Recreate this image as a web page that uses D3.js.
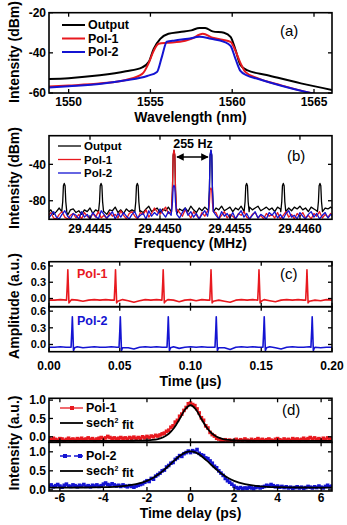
<!DOCTYPE html>
<html>
<head>
<meta charset="utf-8">
<script src="https://cdn.jsdelivr.net/npm/d3@7"></script>
<style>
  body { margin: 0; background: #fff; }
  svg { display: block; font-family: "Liberation Sans", Arial, sans-serif; }
  .tick-label { font-size: 12px; font-weight: bold; }
  .tick-label.small { font-size: 11px; }
  .axis-title { font-size: 14px; font-weight: bold; }
  .legend { font-size: 12.5px; font-weight: bold; }
  .legend.small { font-size: 11.5px; }
  .panel-tag { font-size: 15px; }
</style>
</head>
<body>
<svg id="fig" width="347" height="525"></svg>
<script>
'use strict';

var RED = '#e8191f', BLUE = '#1414d2';

// ---- (a) optical spectra: [wavelength nm, dBm]
var specOutput = [[1548.8,-53],[1550,-52.6],[1551.9,-51.2],[1553.5,-49.2],[1554.5,-47.2],[1554.9,-44.5],
  [1555.2,-38],[1555.6,-33],[1556.1,-30.5],[1556.8,-29.6],[1557.5,-28.8],[1558.0,-27.6],[1558.35,-27.6],
  [1558.8,-29.3],[1559.5,-30],[1559.9,-32],[1560.2,-38.5],[1560.5,-46],[1560.9,-48.6],[1562.1,-51],
  [1564.2,-55.2],[1566.1,-58.5]];
var specPol1 = [[1548.8,-56.8],[1550,-56.3],[1552,-55.2],[1553.5,-53.5],[1554.5,-50.5],[1554.9,-45],
  [1555.2,-39],[1555.5,-35.5],[1556,-35],[1556.8,-34.5],[1557.5,-33],[1558.2,-30.5],[1558.8,-32.5],
  [1559.4,-33.5],[1559.9,-34.5],[1560.2,-39],[1560.5,-45],[1560.8,-49.5],[1561.5,-52.5],[1563,-56.2],
  [1564.8,-60],[1566.1,-62]];
var specPol2 = [[1548.8,-57.2],[1550,-56.6],[1552,-55.4],[1553.5,-53.7],[1554.8,-51.5],[1555.4,-49.5],
  [1555.7,-42],[1556,-34.5],[1556.5,-33.8],[1557.3,-33],[1558,-32],[1558.7,-33],[1559.5,-34.5],
  [1559.9,-36.5],[1560.2,-43],[1560.5,-49],[1560.9,-51.2],[1561.5,-52.8],[1563,-56.4],[1564.8,-60],
  [1566.1,-62]];
var waveTicks = [1550, 1555, 1560, 1565];
var dbmTicksA = [-60, -40, -20];

// ---- (b) RF spectra, offsets in Hz from 29.4450 MHz; noise floor sampled every 20 Hz
var rfCentre = 29.4450, rfStart = -800, rfStep = 20, rfFloor = -92;
var rfOutputNoise = [-93,-90,-95,-92,-88,-94,-91,-96,-90,-89,-93,-91,-95,-90,-92,-88,-94,-90,-93,-89,
  -92,-95,-90,-91,-87,-93,-90,-94,-89,-92,-90,-94,-88,-91,-93,-89,-86,-92,-90,-88,
  -93,-89,-91,-87,-92,-90,-94,-89,-91,-88,-92,-86,-90,-93,-88,-91,-87,-90,-89,-92,
  -88,-90,-86,-91,-89,-87,-92,-88,-90,-86,-89,-91,-87,-90,-88,-86,-91,-89,-87,-90,
  -88,-92,-87,-89,-86,-90,-88,-91,-87,-89,-86,-90,-88,-92,-87,-89,-91,-86,-90,-88,-89,-87,-90];
var rfPol1Noise = [-97,-93,-99,-100,-95,-92,-98,-100,-96,-94,-99,-95,-100,-93,-97,-100,-94,-98,-92,-99,
  -96,-100,-93,-97,-95,-99,-91,-96,-100,-94,-92,-97,-100,-93,-95,-90,-98,-94,-88,-92,
  -95,-91,-87,-94,-92,-96,-89,-93,-97,-90,-94,-99,-92,-96,-100,-93,-97,-91,-95,-98,
  -93,-100,-96,-92,-99,-95,-97,-100,-94,-96,-92,-98,-100,-95,-93,-99,-96,-100,-94,-97,
  -95,-99,-93,-100,-96,-92,-98,-95,-100,-94,-97,-93,-99,-96,-100,-94,-97,-92,-99,-95,-98,-94,-100];
var rfPol2Noise = [-100,-96,-92,-98,-100,-95,-91,-97,-100,-94,-96,-100,-92,-98,-95,-100,-93,-97,-100,-91,
  -95,-99,-96,-92,-100,-94,-98,-93,-97,-100,-95,-92,-99,-96,-94,-100,-91,-97,-93,-96,
  -89,-94,-98,-92,-96,-91,-95,-99,-93,-88,-96,-92,-98,-94,-100,-95,-91,-97,-93,-99,
  -96,-100,-92,-97,-94,-99,-93,-100,-95,-91,-98,-94,-100,-96,-92,-99,-95,-97,-100,-93,
  -96,-92,-99,-95,-100,-94,-91,-98,-96,-100,-93,-97,-100,-95,-92,-98,-94,-100,-96,-93,-99,-95,-97];
// comb lines: [offset Hz, peak dBm]
var rfOutputPeaks = [[-684,-61],[-421,-61],[-162,-61],[100,-25],[364,-25],[619,-61],[881,-61],[1143,-61]];
var rfPol1Peaks = [[100,-24],[364,-66]];
var rfPol2Peaks = [[100,-63],[364,-24]];
// profile of one comb line: [Hz from centre, fraction of height above floor]
var toothShape = [[-18,0],[-11,0.35],[-6,0.92],[0,1],[6,0.92],[11,0.35],[18,0]];
var freqTicks = [29.4445, 29.4450, 29.4455, 29.4460];
var dbmTicksB = [-80, -40];

// ---- (c) oscilloscope traces, baseline sampled every 0.004 us
var scopeStep = 0.004;
var scopePol1Base = [-0.03,-0.03,-0.02,-0.03,-0.02,-0.03,-0.05,-0.03,-0.02,-0.03,
  -0.02,-0.03,-0.03,-0.02,-0.04,-0.07,-0.04,-0.02,-0.03,-0.02,
  -0.03,-0.02,-0.03,-0.06,-0.03,-0.02,-0.04,-0.02,-0.03,-0.02,
  -0.03,-0.05,-0.07,-0.03,-0.02,-0.03,-0.02,-0.03,-0.02,-0.04,
  -0.06,-0.03,-0.02,-0.03,-0.02,-0.03,-0.02,-0.03,-0.04,-0.02,-0.03];
var scopePol2Base = [-0.05,-0.05,-0.04,-0.05,-0.05,-0.04,-0.06,-0.05,-0.04,-0.05,
  -0.05,-0.04,-0.05,-0.04,-0.06,-0.08,-0.05,-0.04,-0.05,-0.04,
  -0.05,-0.05,-0.04,-0.07,-0.05,-0.04,-0.05,-0.04,-0.05,-0.05,
  -0.04,-0.06,-0.09,-0.05,-0.04,-0.05,-0.04,-0.05,-0.05,-0.04,
  -0.06,-0.08,-0.05,-0.04,-0.05,-0.05,-0.04,-0.05,-0.06,-0.05,-0.05];
var pol1PulseTimes = [0.0133, 0.0470, 0.0807, 0.1145, 0.1484, 0.1823];
var pol2PulseTimes = [0.0165, 0.0504, 0.0843, 0.1182, 0.1521, 0.1860];
// one pulse as seen on the scope: [us from peak, amplitude]
var pol1Pulse = [[-0.0009,-0.03],[-0.0003,0.3],[0,0.53],[0.0003,0.3],[0.0008,-0.08],[0.0016,-0.05]];
var pol2Pulse = [[-0.0009,-0.05],[-0.0003,0.28],[0,0.5],[0.0003,0.28],[0.0008,-0.11],[0.0016,-0.06]];
var timeTicks = [0, 0.05, 0.10, 0.15, 0.20];
var ampTicks = [0, 0.3, 0.6];

// ---- (d) autocorrelation traces, sampled every 0.1 ps from -6.5 ps
var acStart = -6.5, acStep = 0.1;
var acPol1 = [-0.05,-0.08,-0.04,-0.07,-0.09,-0.05,-0.06,-0.10,-0.07,-0.04,
  -0.08,-0.06,-0.09,-0.05,-0.07,-0.04,-0.08,-0.06,-0.03,-0.07,
  -0.05,-0.09,-0.06,-0.04,-0.02,-0.05,-0.03,0.01,-0.02,-0.05,
  -0.03,-0.06,-0.04,-0.02,-0.05,-0.03,-0.06,-0.02,-0.04,-0.01,
  -0.05,-0.02,-0.04,0.00,-0.03,0.01,-0.02,0.02,0.00,0.04,
  0.02,0.05,0.08,0.10,0.15,0.18,0.26,0.30,0.40,0.45,
  0.56,0.62,0.72,0.80,0.90,0.92,0.88,0.85,0.76,0.65,
  0.52,0.45,0.30,0.24,0.12,0.06,0.02,-0.04,-0.06,-0.09,
  -0.10,-0.08,-0.11,-0.09,-0.12,-0.10,-0.07,-0.11,-0.08,-0.10,
  -0.06,-0.09,-0.11,-0.07,-0.10,-0.08,-0.05,-0.09,-0.07,-0.10,
  -0.08,-0.06,-0.09,-0.11,-0.07,-0.05,-0.08,-0.10,-0.06,-0.09,
  -0.07,-0.10,-0.05,-0.08,-0.06,-0.09,-0.07,-0.04,-0.08,-0.05,
  -0.02,-0.06,-0.03,-0.07,-0.05,-0.08,-0.04,-0.07,-0.03,-0.06,-0.04];
var acPol2 = [0.10,0.13,0.08,0.11,0.14,0.10,0.07,0.12,0.15,0.10,
  0.09,0.13,0.11,0.08,0.12,0.10,0.14,0.09,0.11,0.08,
  0.12,0.10,0.13,0.09,0.11,0.15,0.18,0.14,0.12,0.16,
  0.13,0.10,0.12,0.09,0.13,0.10,0.08,0.11,0.09,0.07,
  0.10,0.12,0.14,0.16,0.20,0.24,0.22,0.30,0.28,0.36,
  0.40,0.44,0.50,0.52,0.60,0.64,0.70,0.72,0.80,0.84,
  0.90,0.88,0.95,0.98,1.02,0.98,1.03,1.00,1.06,0.96,
  0.92,0.90,0.84,0.82,0.76,0.70,0.62,0.58,0.50,0.44,
  0.38,0.30,0.24,0.20,0.15,0.10,0.06,0.04,0.06,0.03,
  0.05,0.04,0.07,0.05,0.03,0.06,0.08,0.05,0.07,0.09,
  0.12,0.10,0.14,0.11,0.08,0.10,0.07,0.09,0.06,0.08,
  0.05,0.07,0.04,0.06,0.08,0.05,0.07,0.04,0.06,0.09,
  0.07,0.05,0.08,0.06,0.10,0.07,0.05,0.09,0.12,0.08,0.10];
// sech^2 fits
var fitTimes = [-6.5,-5,-4,-3.5,-3,-2.5,-2,-1.75,-1.5,-1.25,-1,-0.75,-0.5,-0.25,0,
  0.25,0.5,0.75,1,1.25,1.5,1.75,2,2.5,3,3.5,4,5,6.5];
var fitPol1 = [-0.11,-0.11,-0.11,-0.11,-0.109,-0.107,-0.098,-0.086,-0.061,-0.012,0.082,0.246,0.487,0.743,0.86,
  0.743,0.487,0.246,0.082,-0.012,-0.061,-0.086,-0.098,-0.107,-0.109,-0.11,-0.11,-0.11,-0.11];
var fitPol2 = [0.06,0.062,0.07,0.081,0.104,0.149,0.238,0.306,0.395,0.507,0.634,0.767,0.891,0.978,1.01,
  0.978,0.891,0.767,0.634,0.507,0.395,0.306,0.238,0.149,0.104,0.081,0.07,0.062,0.06];
var delayTicks = [-6, -4, -2, 0, 2, 4, 6];
var acTicks = [0, 0.5, 1.0];

var svg = d3.select('#fig');
var X0 = 49, X1 = 332;
var clipId = 0;

// frame with inward ticks on all four sides, returns the clipped data group
function frame(xs, ys, xTicks, yTicks, yFmt, labelClass) {
  var x0 = xs.range()[0], x1 = xs.range()[1];
  var yb = ys.range()[0], yt = ys.range()[1];
  var tl = 4;

  var id = 'clip' + (clipId++);
  svg.append('defs').append('clipPath').attr('id', id)
    .append('rect').attr('x', x0).attr('y', yt).attr('width', x1 - x0).attr('height', yb - yt);
  var data = svg.append('g').attr('clip-path', 'url(#' + id + ')');

  var ticks = svg.append('g').attr('stroke', '#000').attr('stroke-width', 1.3);
  xTicks.forEach(function (t) {
    var x = xs(t);
    ticks.append('line').attr('x1', x).attr('x2', x).attr('y1', yb).attr('y2', yb - tl);
    ticks.append('line').attr('x1', x).attr('x2', x).attr('y1', yt).attr('y2', yt + tl);
  });
  yTicks.forEach(function (t) {
    var y = ys(t);
    ticks.append('line').attr('x1', x0).attr('x2', x0 + tl).attr('y1', y).attr('y2', y);
    ticks.append('line').attr('x1', x1).attr('x2', x1 - tl).attr('y1', y).attr('y2', y);
    svg.append('text').attr('class', 'tick-label ' + (labelClass || ''))
      .attr('x', x0 - 3).attr('y', y).attr('dy', '0.36em')
      .attr('text-anchor', 'end').text(yFmt(t));
  });

  return { data: data, x0: x0, x1: x1, yt: yt, yb: yb };
}

function border(f) {
  svg.append('rect').attr('x', f.x0).attr('y', f.yt)
    .attr('width', f.x1 - f.x0).attr('height', f.yb - f.yt)
    .attr('fill', 'none').attr('stroke', '#000').attr('stroke-width', 1.6);
}

function xLabels(xs, ticks, y, fmt) {
  ticks.forEach(function (t) {
    svg.append('text').attr('class', 'tick-label')
      .attr('x', xs(t)).attr('y', y).attr('text-anchor', 'middle').text(fmt(t));
  });
}

function xTitle(text, y) {
  svg.append('text').attr('class', 'axis-title')
    .attr('x', (X0 + X1) / 2).attr('y', y).attr('text-anchor', 'middle').text(text);
}

function yTitle(text, cy) {
  svg.append('text').attr('class', 'axis-title')
    .attr('transform', 'translate(19,' + cy + ') rotate(-90)')
    .attr('text-anchor', 'middle').text(text);
}

function tag(text, x, y) {
  svg.append('text').attr('class', 'panel-tag').attr('x', x).attr('y', y).text(text);
}

function legendLine(x, y, color, width, text, dash, cls) {
  svg.append('line').attr('x1', x).attr('x2', x + 23).attr('y1', y).attr('y2', y)
    .attr('stroke', color).attr('stroke-width', width).attr('stroke-dasharray', dash || null);
  return svg.append('text').attr('class', 'legend ' + (cls || ''))
    .attr('x', x + 26).attr('y', y).attr('dy', '0.35em').text(text);
}

function fmtInt(v) { return String(v); }
function fmt1(v) { return v.toFixed(1); }

// ================= (a) =================
var xA = d3.scaleLinear().domain([1548.8, 1566.1]).range([X0, X1]);
var yA = d3.scaleLinear().domain([-60, -20]).range([93, 12.7]);
var fA = frame(xA, yA, waveTicks, dbmTicksA, fmtInt);
var lineA = d3.line().x(function (d) { return xA(d[0]); }).y(function (d) { return yA(d[1]); })
  .curve(d3.curveMonotoneX);
[[specOutput, '#000'], [specPol1, RED], [specPol2, BLUE]].forEach(function (s) {
  fA.data.append('path').datum(s[0]).attr('d', lineA)
    .attr('fill', 'none').attr('stroke', s[1]).attr('stroke-width', 2);
});
border(fA);
xLabels(xA, waveTicks, 106, fmtInt);
xTitle('Wavelength (nm)', 121.5);
yTitle('Intensity (dBm)', 52);
legendLine(62, 25, '#000', 2, 'Output');
legendLine(62, 38.5, RED, 2, 'Pol-1');
legendLine(62, 52, BLUE, 2, 'Pol-2');
tag('(a)', 280, 36);

// ================= (b) =================
var xB = d3.scaleLinear().domain([29.444207, 29.446229]).range([X0, X1]);
var yB = d3.scaleLinear().domain([-100.4, -8.5]).range([219.3, 135.7]);
var fB = frame(xB, yB, freqTicks, dbmTicksB, fmtInt);

function rfTrace(noise, peaks) {
  var pts = noise.map(function (v, i) { return [rfStart + i * rfStep, v]; })
    .filter(function (p) {
      return !peaks.some(function (k) { return Math.abs(p[0] - k[0]) < 20; });
    });
  peaks.forEach(function (k) {
    toothShape.forEach(function (s) {
      pts.push([k[0] + s[0], rfFloor + (k[1] - rfFloor) * s[1]]);
    });
  });
  pts.sort(function (a, b) { return a[0] - b[0]; });
  return pts;
}
var lineB = d3.line()
  .x(function (d) { return xB(rfCentre + d[0] * 1e-6); })
  .y(function (d) { return yB(d[1]); });
[[rfTrace(rfOutputNoise, rfOutputPeaks), '#000'],
 [rfTrace(rfPol1Noise, rfPol1Peaks), RED],
 [rfTrace(rfPol2Noise, rfPol2Peaks), BLUE]].forEach(function (s) {
  fB.data.append('path').datum(s[0]).attr('d', lineB)
    .attr('fill', 'none').attr('stroke', s[1]).attr('stroke-width', 1.3)
    .attr('stroke-linejoin', 'round');
});
border(fB);
xLabels(xB, freqTicks, 233, function (v) { return v.toFixed(4); });
xTitle('Frequency (MHz)', 248);
yTitle('Intensity (dBm)', 178);
legendLine(58, 146, '#000', 1.3, 'Output', null, 'small');
legendLine(58, 159.5, RED, 1.3, 'Pol-1', null, 'small');
legendLine(58, 173, BLUE, 1.3, 'Pol-2', null, 'small');
tag('(b)', 287, 161);

// 255 Hz spacing arrow between the two polarisation lines
svg.append('defs').append('marker').attr('id', 'arrowhead').attr('viewBox', '0 0 10 10')
  .attr('refX', 9).attr('refY', 5).attr('markerWidth', 5).attr('markerHeight', 5)
  .attr('orient', 'auto-start-reverse')
  .append('path').attr('d', 'M0,0L10,5L0,10z').attr('fill', '#000');
svg.append('line')
  .attr('x1', xB(rfCentre + rfPol1Peaks[0][0] * 1e-6) + 3)
  .attr('x2', xB(rfCentre + rfPol2Peaks[1][0] * 1e-6) - 3)
  .attr('y1', 157).attr('y2', 157)
  .attr('stroke', '#000').attr('stroke-width', 1.5)
  .attr('marker-start', 'url(#arrowhead)').attr('marker-end', 'url(#arrowhead)');
svg.append('text').attr('class', 'legend').attr('x', 193).attr('y', 148)
  .attr('text-anchor', 'middle').text('255 Hz');

// ================= (c) =================
var xC = d3.scaleLinear().domain([0, 0.2]).range([X0, X1]);
var yC1 = d3.scaleLinear().domain([-0.151, 0.679]).range([306.7, 261.7]);
var yC2 = d3.scaleLinear().domain([-0.13, 0.68]).range([351.7, 306.7]);

function scopeTrace(base, times, pulse) {
  var pts = base.map(function (v, i) { return [i * scopeStep, v]; })
    .filter(function (p) {
      return !times.some(function (t) { return Math.abs(p[0] - t) < 0.002; });
    });
  times.forEach(function (t) {
    pulse.forEach(function (s) { pts.push([t + s[0], s[1]]); });
  });
  pts.sort(function (a, b) { return a[0] - b[0]; });
  return pts;
}

[[yC1, scopePol1Base, pol1PulseTimes, pol1Pulse, RED],
 [yC2, scopePol2Base, pol2PulseTimes, pol2Pulse, BLUE]].forEach(function (s) {
  var f = frame(xC, s[0], timeTicks, ampTicks, fmt1, 'small');
  var ln = d3.line().x(function (d) { return xC(d[0]); }).y(function (d) { return s[0](d[1]); });
  f.data.append('path').datum(scopeTrace(s[1], s[2], s[3])).attr('d', ln)
    .attr('fill', 'none').attr('stroke', s[4]).attr('stroke-width', 1.6)
    .attr('stroke-linejoin', 'round');
  border(f);
});
xLabels(xC, timeTicks, 370, function (v) { return v.toFixed(2); });
xTitle('Time (\u03bcs)', 386);
yTitle('Amplitude (a.u.)', 306);
svg.append('text').attr('class', 'legend').attr('x', 77).attr('y', 278).attr('fill', RED).text('Pol-1');
svg.append('text').attr('class', 'legend').attr('x', 77).attr('y', 325).attr('fill', BLUE).text('Pol-2');
tag('(c)', 280, 279);

// ================= (d) =================
var xD = d3.scaleLinear().domain([-6.5, 6.5]).range([X0, X1]);
var yD1 = d3.scaleLinear().domain([-0.15, 1.05]).range([442.3, 398.3]);
var yD2 = d3.scaleLinear().domain([-0.03, 1.25]).range([491, 442.3]);

function acPoints(vals) {
  return vals.map(function (v, i) { return [acStart + i * acStep, v]; });
}
var fitPts1 = fitTimes.map(function (t, i) { return [t, fitPol1[i]]; });
var fitPts2 = fitTimes.map(function (t, i) { return [t, fitPol2[i]]; });

[[yD1, acPoints(acPol1), fitPts1, RED, null],
 [yD2, acPoints(acPol2), fitPts2, BLUE, '4,2']].forEach(function (s) {
  var f = frame(xD, s[0], delayTicks, acTicks, fmt1);
  var ln = d3.line().x(function (d) { return xD(d[0]); }).y(function (d) { return s[0](d[1]); });
  f.data.append('path').datum(s[1]).attr('d', ln)
    .attr('fill', 'none').attr('stroke', s[3]).attr('stroke-width', 1)
    .attr('stroke-dasharray', s[4]);
  f.data.append('g').selectAll('rect').data(s[1]).enter().append('rect')
    .attr('x', function (d) { return xD(d[0]) - 1.8; })
    .attr('y', function (d) { return s[0](d[1]) - 1.8; })
    .attr('width', 3.6).attr('height', 3.6).attr('fill', s[3]);
  f.data.append('path').datum(s[2]).attr('d', ln.curve(d3.curveMonotoneX))
    .attr('fill', 'none').attr('stroke', '#000').attr('stroke-width', 1.8);
  border(f);
});
xLabels(xD, delayTicks, 502, fmtInt);
xTitle('Time delay (ps)', 518);
yTitle('Intensity (a.u.)', 443);
tag('(d)', 282, 415);

function fitLegend(y) {
  var t = legendLine(60, y, '#000', 1.8, 'sech');
  t.append('tspan').attr('font-size', '7px').attr('dy', '-0.6em').text('2');
  t.append('tspan').attr('dy', '0.45em').text(' fit');
}
legendLine(60, 408, RED, 1.3, 'Pol-1');
svg.append('rect').attr('x', 70).attr('y', 406).attr('width', 4).attr('height', 4).attr('fill', RED);
fitLegend(423);
legendLine(60, 456, BLUE, 1.3, 'Pol-2', '4,3');
[63, 78].forEach(function (x) {
  svg.append('rect').attr('x', x).attr('y', 454).attr('width', 4).attr('height', 4).attr('fill', BLUE);
});
fitLegend(471);
</script>
</body>
</html>
